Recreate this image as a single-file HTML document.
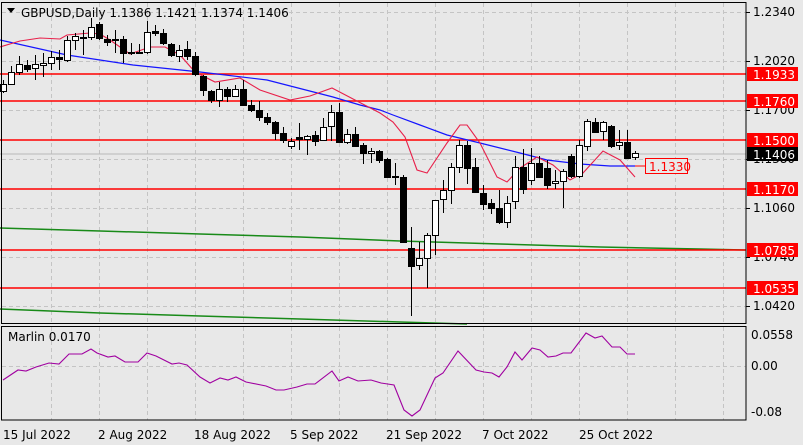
<!DOCTYPE html>
<html><head><meta charset="utf-8"><style>
html,body{margin:0;padding:0;background:#e8e8e8;}
svg{display:block;font-family:Tahoma,"DejaVu Sans","Liberation Sans",sans-serif;}
</style></head><body>
<svg id="s" width="803" height="445" xmlns="http://www.w3.org/2000/svg">
<rect width="803" height="445" fill="#e8e8e8"/>
<g id="grid" stroke="#c4c4c4" stroke-dasharray="4,3" stroke-width="1"></g>
<g stroke="#00a000" fill="none" stroke-width="1.5">
<polyline points="0,228 100,231 200,234 300,237 400,241 500,244 600,247 700,249 745,250" stroke="#188a18"/>
<polyline points="0,309 100,313 200,316 300,319 400,322 467,324" stroke="#188a18"/>
</g>
<line x1="0" y1="154" x2="746" y2="154" stroke="#b8b8b8"/>
<g stroke="#ff0000" stroke-width="1.5">
<line x1="0" y1="74" x2="746" y2="74"/>
<line x1="0" y1="101" x2="746" y2="101"/>
<line x1="0" y1="140" x2="746" y2="140"/>
<line x1="0" y1="189" x2="746" y2="189"/>
<line x1="0" y1="250" x2="746" y2="250"/>
<line x1="0" y1="288" x2="746" y2="288"/>
</g>
<polyline fill="none" stroke="#1515ff" stroke-width="1.2" points="0,40 67,55 133,65 200,72 267,80 333,97 360,105 380,110 393,115 420,125 447,135 480,143 520,153 547,160 580,164 610,166 635,166"/>
<polyline fill="none" stroke="#e8204a" stroke-width="1.1" points="0,47 20,41 40,38 60,39 67,35 90,33 100,34 110,40 130,54 150,47 165,47 180,55 195,72 215,82 240,78 260,90 290,100 310,96 332,88 355,100 380,113 393,122 405,137 417,170 427,173 447,143 460,125 467,125 480,143 497,177 507,182 520,168 537,157 553,165 570,180 583,173 603,151 620,160 635,177"/>
<g id="candles"></g>
<line x1="635" y1="166" x2="645" y2="166" stroke="#ff0000"/>
<rect x="645.5" y="158.5" width="42" height="15" fill="#e8e8e8" stroke="#ff0000"/>
<text x="649" y="171" font-size="12" fill="#ff0000">1.1330</text>
<!-- frames -->
<rect x="1.5" y="2.5" width="744.5" height="321" fill="none" stroke="#000"/>
<rect x="1.5" y="326.5" width="744.5" height="93.5" fill="none" stroke="#000"/>
<g font-size="12" fill="#000">
<path d="M7,8 L15,8 L11,13 Z" fill="#000"/>
<text x="21" y="17">GBPUSD,Daily  1.1386 1.1421 1.1374 1.1406</text>
<text x="8" y="341">Marlin 0.0170</text>
</g>
<g id="ticks" font-size="12" fill="#000" stroke="none"></g>
<polyline fill="none" stroke="#a000a0" stroke-width="1.1" points="3,380 18,370 26,371 36,367 49,363 59,364 69,354 82,354 91,349 97,353 108,357 115,356 125,362 138,362 147,353 156,356 172,364 179,363 187,365 200,377 210,383 220,378 228,380 236,377 246,382 266,386 276,390 284,390 297,387 307,384 315,384 332,371 339,381 348,377 358,381 371,380 381,383 394,385 404,410 412,416 420,410 435,378 443,373 458,351 476,370 484,372 492,373 499,377 507,367 515,352 522,360 532,348 540,350 548,357 556,356 563,353 571,353 586,333 595,338 602,336 612,347 620,347 627,354 635,354"/>
<g font-size="12" fill="#000">
<text x="3" y="439">15 Jul 2022</text>
<text x="98" y="439">2 Aug 2022</text>
<text x="194" y="439">18 Aug 2022</text>
<text x="290" y="439">5 Sep 2022</text>
<text x="386" y="439">21 Sep 2022</text>
<text x="482" y="439">7 Oct 2022</text>
<text x="579" y="439">25 Oct 2022</text>
<text x="751" y="339">0.0558</text>
<text x="751" y="370">0.00</text>
<text x="751" y="416">-0.08</text>
</g>
<g font-size="12">
<rect x="747" y="67" width="51" height="14" fill="#ff0000"/><text x="753" y="79" fill="#fff">1.1933</text>
<rect x="747" y="94" width="51" height="14" fill="#ff0000"/><text x="753" y="106" fill="#fff">1.1760</text>
<rect x="747" y="133" width="51" height="14" fill="#ff0000"/><text x="753" y="145" fill="#fff">1.1500</text>
<rect x="747" y="147" width="51" height="14" fill="#000"/><text x="753" y="159" fill="#fff">1.1406</text>
<rect x="747" y="182" width="51" height="14" fill="#ff0000"/><text x="753" y="194" fill="#fff">1.1170</text>
<rect x="747" y="243" width="51" height="14" fill="#ff0000"/><text x="753" y="255" fill="#fff">1.0785</text>
<rect x="747" y="281" width="51" height="14" fill="#ff0000"/><text x="753" y="293" fill="#fff">1.0535</text>
</g>
</svg>
<script>
var NS="http://www.w3.org/2000/svg";
function el(p,t,a){var e=document.createElementNS(NS,t);for(var k in a)e.setAttribute(k,a[k]);p.appendChild(e);return e;}
var g=document.getElementById('grid');
[12,61,110,159,208,257,306].forEach(function(y){el(g,'line',{x1:2,y1:y+.5,x2:746,y2:y+.5});});
el(g,'line',{x1:2,y1:366.5,x2:746,y2:366.5});
for(var x=51;x<746;x+=48){el(g,'line',{x1:x+.5,y1:3,x2:x+.5,y2:323});el(g,'line',{x1:x+.5,y1:327,x2:x+.5,y2:420});}
var t=document.getElementById('ticks');
[["1.2340",12],["1.2020",61],["1.1700",110],["1.1380",159],["1.1060",208],["1.0740",257],["1.0420",306]].forEach(function(a){
 el(t,'line',{x1:746,y1:a[1]+.5,x2:750,y2:a[1]+.5,stroke:'#000'});
 var tx=el(t,'text',{x:753,y:a[1]+4});tx.textContent=a[0];});
// [top,bottom,highWick,lowWick,isUp]
var C=[[84,91,80,93,1],[72,84,66,84,1],[64,72,56,75,1],[65,69,60,72,0],[64,68,55,80,1],[63,65,53,77,1],[57,63,51,70,1],[57,59,50,70,0],[40,60,36,62,1],[36,40,33,50,1],
[37,38,30,55,1],[27,37,18,40,1],[24,38,22,40,0],[39,42,35,46,0],[39,40,30,53,0],[39,53,36,63,0],[52,53,43,55,1],[52,53,44,54,0],[32,52,21,54,1],[31,33,25,36,0],
[33,43,29,45,0],[44,55,43,57,0],[50,56,45,62,1],[49,56,41,60,0],[56,74,52,76,0],[76,90,75,96,0],[91,100,90,103,0],[89,100,82,107,1],[89,96,87,102,0],[89,96,85,97,1],
[89,105,80,106,0],[105,110,100,112,0],[110,117,101,121,0],[117,122,113,125,0],[122,133,121,140,0],[133,140,127,143,0],[141,146,138,149,1],[137,139,123,150,0],[136,139,135,155,1],[135,141,131,146,0],
[127,140,118,141,1],[112,126,105,141,1],[112,142,103,143,0],[134,142,129,144,1],[134,146,127,147,0],[145,153,143,164,0],[151,153,148,163,1],[151,160,150,163,0],[159,177,158,177,0],[176,177,163,185,0],
[177,242,175,242,0],[248,266,227,316,0],[258,265,242,270,1],[235,258,233,288,1],[200,235,200,255,1],[190,199,180,213,1],[167,190,163,204,1],[145,167,140,173,1],[145,168,141,184,0],[167,192,158,193,0],
[193,204,185,210,0],[203,208,199,214,0],[208,222,190,224,0],[203,222,196,228,1],[167,201,156,209,1],[167,189,149,194,0],[163,180,148,185,1],[163,177,156,178,0],[168,185,160,189,0],[181,183,170,189,1],
[171,181,169,208,1],[156,176,154,178,0],[145,176,140,178,1],[121,146,119,151,1],[122,132,118,133,0],[122,131,121,140,1],[126,146,125,148,0],[142,145,130,150,1],[142,158,130,159,0],[153,157,151,160,1]];
var cg=document.getElementById('candles');
C.forEach(function(c,i){var x=3+8*i;
 el(cg,'line',{x1:x+.5,y1:c[2],x2:x+.5,y2:c[3],stroke:'#000'});
 var h=Math.max(1,c[1]-c[0]);
 el(cg,'rect',{x:x-2.5,y:c[0]+.5,width:6,height:h,fill:c[4]?'#fff':'#000',stroke:'#000'});
});
</script>
</body></html>
